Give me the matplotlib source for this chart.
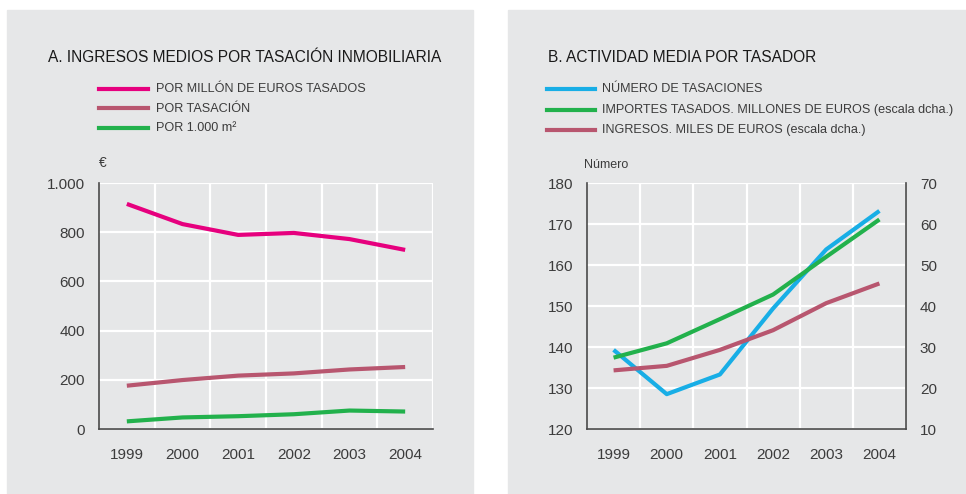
import matplotlib.pyplot as plt
from matplotlib.patches import Rectangle
from matplotlib.lines import Line2D

plt.rcParams['font.family'] = ['Liberation Sans', 'DejaVu Sans']

years = ["1999", "2000", "2001", "2002", "2003", "2004"]

# A. ingresos medios por tasacion (euros)
por_millon = [915, 833, 789, 797, 772, 728]
por_tasacion = [176, 199, 217, 226, 242, 252]
por_1000m2 = [31, 47, 52, 60, 75, 71]

# B. actividad media por tasador
num_tasaciones = [139.3, 128.5, 133.3, 149.4, 163.8, 173.2]
importes = [27.4, 30.9, 36.8, 42.8, 52.0, 61.1]      # escala dcha.
ingresos = [24.3, 25.4, 29.3, 34.1, 40.7, 45.5]      # escala dcha.

left_labels = ["POR MILLÓN DE EUROS TASADOS", "POR TASACIÓN", "POR 1.000 m²"]
right_labels = ["NÚMERO DE TASACIONES",
                "IMPORTES TASADOS. MILLONES DE EUROS (escala dcha.)",
                "INGRESOS. MILES DE EUROS (escala dcha.)"]

PINK = "#e6007e"
MAUVE = "#b8566f"
GREEN = "#22b14c"
BLUE = "#18aee6"
PANEL = "#e6e7e8"
TXT = "#3c3c3c"
SPINE = "#4a4a4a"

W, H = 966, 494
fig = plt.figure(figsize=(W / 100, H / 100), dpi=100)
fig.patch.set_facecolor("white")


def px(x, y):
    return x / W, 1 - y / H


# grey panels
fig.patches.append(Rectangle(px(7, 494), (473 - 7) / W, (494 - 10) / H,
                             transform=fig.transFigure, color=PANEL, zorder=-5))
fig.patches.append(Rectangle(px(508, 494), (966 - 508) / W, (494 - 10) / H,
                             transform=fig.transFigure, color=PANEL, zorder=-5))


def style_axes(ax):
    ax.set_facecolor(PANEL)
    x = range(len(years))
    ax.set_xlim(-0.5, len(years) - 0.5)
    ax.set_xticks(list(x))
    ax.set_xticklabels(years)
    ax.set_xticks([i + 0.5 for i in x], minor=True)
    ax.grid(True, which="minor", axis="x", color="white", lw=1.6)
    ax.grid(True, which="major", axis="y", color="white", lw=1.6)
    ax.set_axisbelow(True)
    ax.tick_params(which="both", length=0, colors=TXT, labelsize=11)
    ax.tick_params(axis="x", pad=14)
    ax.tick_params(axis="y", pad=10)
    for s in ("top", "right"):
        ax.spines[s].set_visible(False)
    for s in ("left", "bottom"):
        ax.spines[s].set_color(SPINE)
        ax.spines[s].set_linewidth(1.2)


# ---- panel A
axA = fig.add_axes([99 / W, 1 - 429 / H, 334 / W, 246 / H])
style_axes(axA)
axA.set_ylim(0, 1000)
axA.set_yticks([0, 200, 400, 600, 800, 1000])
axA.set_yticklabels(["0", "200", "400", "600", "800", "1.000"])
xs = range(len(years))
axA.plot(xs, por_millon, color=PINK, lw=3, solid_capstyle="butt")
axA.plot(xs, por_tasacion, color=MAUVE, lw=3, solid_capstyle="butt")
axA.plot(xs, por_1000m2, color=GREEN, lw=3, solid_capstyle="butt")

fig.text(*px(48, 57), "A. INGRESOS MEDIOS POR TASACIÓN INMOBILIARIA",
         fontsize=11.2, color="#1a1a1a", va="center", ha="left")
fig.text(*px(99, 163), "€", fontsize=10, color=TXT, va="center")

for i, (lab, col) in enumerate(zip(left_labels, [PINK, MAUVE, GREEN])):
    y = 89 + i * 19.5
    fig.add_artist(Line2D([99 / W, 148 / W], [1 - y / H] * 2, color=col, lw=3,
                          transform=fig.transFigure))
    fig.text(*px(156, y), lab, fontsize=9.1, color=TXT, va="center", ha="left")

# ---- panel B
axB = fig.add_axes([587 / W, 1 - 429 / H, 319 / W, 246 / H])
style_axes(axB)
axB.spines["right"].set_visible(True)
axB.spines["right"].set_color(SPINE)
axB.spines["right"].set_linewidth(1.2)
axB.set_ylim(120, 180)
axB.set_yticks(range(120, 181, 10))
axB2 = axB.twinx()
axB2.set_ylim(10, 70)
axB2.set_yticks(range(10, 71, 10))
axB2.tick_params(length=0, colors=TXT, labelsize=11, pad=10)
for s in axB2.spines.values():
    s.set_visible(False)

axB2.plot(xs, importes, color=GREEN, lw=3, solid_capstyle="butt", zorder=2)
axB2.plot(xs, ingresos, color=MAUVE, lw=3, solid_capstyle="butt", zorder=2)
axB2.plot(xs, num_tasaciones, color=BLUE, lw=3, solid_capstyle="butt", zorder=1,
          transform=axB.transData)

fig.text(*px(548, 57), "B. ACTIVIDAD MEDIA POR TASADOR",
         fontsize=11.2, color="#1a1a1a", va="center", ha="left")
fig.text(*px(584, 165), "Número", fontsize=9, color=TXT, va="center")

for i, (lab, col) in enumerate(zip(right_labels, [BLUE, GREEN, MAUVE])):
    y = 89 + i * 20.5
    fig.add_artist(Line2D([547 / W, 595 / W], [1 - y / H] * 2, color=col, lw=3,
                          transform=fig.transFigure))
    fig.text(*px(602, y), lab, fontsize=9.1, color=TXT, va="center", ha="left")

fig.savefig("out.png", dpi=100)
